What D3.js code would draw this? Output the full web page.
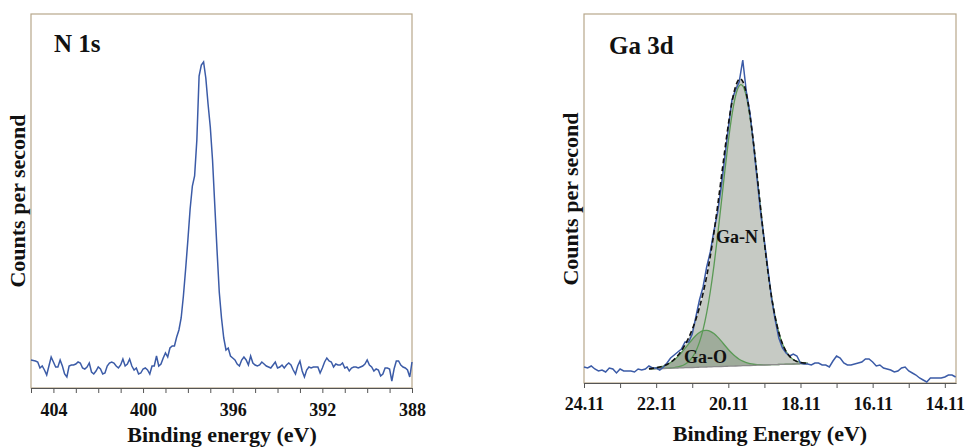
<!DOCTYPE html>
<html>
<head>
<meta charset="utf-8">
<script src="https://cdn.jsdelivr.net/npm/d3@7/dist/d3.min.js"></script>
<style>
  body { margin: 0; background: #fff; }
  svg { display: block; }
  text { font-family: "Liberation Serif", "Times New Roman", serif; font-weight: bold; fill: #111; }
</style>
</head>
<body>
<svg id="chart" width="968" height="448"></svg>
<script>
// ---- N 1s spectrum (0.1 eV steps from 405.0 eV down to 388.0 eV) ----
const n1sStart = 405.0;
const n1sStep = 0.1;
const n1sCounts = [
  280, 275, 270, 260, 200, 220, 180, 130, 220, 310,
  260, 210, 210, 280, 220, 140, 110, 220, 230, 230,
  240, 260, 250, 200, 190, 210, 250, 160, 140, 170,
  210, 190, 140, 150, 220, 250, 260, 250, 220, 200,
  230, 290, 220, 240, 290, 220, 180, 200, 140, 150,
  190, 200, 180, 140, 220, 220, 320, 220, 240, 300,
  350, 310, 400, 420, 420, 510, 580, 700, 920, 1190,
  1480, 1790, 2020, 2120, 2480, 3120, 3230, 3260, 3100, 2840,
  2610, 2280, 1830, 1380, 960, 700, 500, 380, 400, 320,
  300, 280, 240, 220, 280, 310, 280, 230, 320, 250,
  230, 220, 230, 260, 240, 220, 210, 200, 230, 260,
  200, 210, 230, 200, 230, 250, 230, 180, 140, 220,
  270, 170, 110, 180, 210, 200, 210, 210, 210, 150,
  200, 260, 300, 270, 260, 210, 240, 230, 230, 250,
  200, 210, 170, 200, 210, 210, 200, 210, 220, 240,
  280, 230, 210, 170, 190, 180, 120, 140, 200, 200,
  190, 70, 190, 270, 270, 230, 210, 200, 180, 110,
  260
];
const n1sTicks = [405, 404, 403, 402, 401, 400, 399, 398, 397, 396, 395, 394, 393, 392, 391, 390, 389, 388];
const n1sLabels = [404, 400, 396, 392, 388];

// ---- Ga 3d spectrum (0.1 eV steps from 24.11 eV down to 13.81 eV) ----
const gaStart = 24.11;
const gaStep = 0.1;
const gaCounts = [
  160, 150, 170, 140, 120, 130, 110, 150, 140, 100,
  140, 120, 120, 120, 110, 140, 130, 140, 170, 150,
  150, 130, 160, 200, 250, 280, 310, 340, 410, 410,
  490, 660, 830, 960, 1160, 1310, 1520, 1700, 1950, 2250,
  2550, 2830, 2930, 3010, 3230, 2910, 2700, 2380, 2030, 1690,
  1420, 1130, 840, 630, 450, 350, 300, 270, 290, 270,
  200, 190, 190, 180, 200, 200, 180, 180, 160, 220,
  270, 250, 200, 180, 180, 190, 200, 210, 240, 240,
  210, 170, 180, 150, 140, 130, 110, 120, 150, 160,
  120, 100, 80, 50, 30, 10, 50, 50, 50, 50,
  60, 80, 80, 60
];

// fitted components, 0.1 eV steps from 22.31 eV down to 17.91 eV
const fitStart = 22.31;
const fitStep = 0.1;
const fitBackground = [
  140, 141, 143, 144, 145, 146, 148, 149, 150, 151,
  153, 154, 155, 156, 158, 159, 160, 161, 163, 164,
  165, 166, 168, 169, 170, 171, 173, 174, 175, 176,
  178, 179, 180, 181, 183, 184, 185, 186, 188, 189,
  190, 191, 193, 194, 195
];
const fitGaN = [
  0, 0, 0, 0, 1, 1, 2, 5, 10, 18,
  33, 58, 97, 157, 245, 368, 533, 744, 1000, 1296,
  1618, 1946, 2256, 2521, 2715, 2817, 2816, 2706, 2497, 2215,
  1888, 1545, 1216, 919, 667, 466, 312, 201, 124, 74,
  42, 23, 12, 6, 3
];
const fitGaO = [
  3, 5, 9, 15, 24, 37, 56, 81, 113, 151,
  193, 238, 281, 320, 349, 366, 369, 358, 333, 298,
  256, 211, 167, 127, 93, 66, 44, 29, 18, 11,
  6, 3, 2, 1, 0, 0, 0, 0, 0, 0,
  0, 0, 0, 0, 0
];
const gaTicks = [24.11, 23.11, 22.11, 21.11, 20.11, 19.11, 18.11, 17.11, 16.11, 15.11, 14.11];
const gaLabels = ["24.11", "22.11", "20.11", "18.11", "16.11", "14.11"];

const blue = "#3b5ba7";
const frameColor = "#b7a78b";
const axisColor = "#555";

const svg = d3.select("#chart");

function drawFrame(g, x, y) {
  const [xa, xb] = x.range();
  const [ya, yb] = y.range();
  g.append("rect")
    .attr("x", Math.min(xa, xb)).attr("y", Math.min(ya, yb))
    .attr("width", Math.abs(xb - xa)).attr("height", Math.abs(yb - ya))
    .attr("fill", "none").attr("stroke", frameColor).attr("stroke-width", 1.2);
}

function drawAxis(g, x, y0, ticks, isLabel, fmt, pad) {
  const axis = d3.axisBottom(x)
    .tickValues(ticks)
    .tickSize(5)
    .tickSizeOuter(0)
    .tickPadding(pad)
    .tickFormat(d => isLabel(d) ? fmt(d) : "");
  const ax = g.append("g").attr("transform", `translate(0,${y0})`).call(axis);
  ax.select(".domain").attr("stroke", axisColor).attr("stroke-width", 1.2);
  ax.selectAll(".tick line").attr("stroke", axisColor);
  ax.selectAll(".tick text")
    .attr("font-size", 18)
    .attr("font-family", "Liberation Serif, serif")
    .attr("font-weight", "bold")
    .attr("fill", "#111");
}

// ---------------- Left panel: N 1s ----------------
{
  const x = d3.scaleLinear().domain([405, 388]).range([31, 412]);
  const y = d3.scaleLinear().domain([0, 3740]).range([388, 14]);
  const g = svg.append("g");
  drawFrame(g, x, y);

  const pts = n1sCounts.map((c, i) => ({ e: n1sStart - i * n1sStep, c }));
  g.append("path")
    .datum(pts)
    .attr("fill", "none")
    .attr("stroke", blue)
    .attr("stroke-width", 1.5)
    .attr("d", d3.line().x(d => x(d.e)).y(d => y(d.c)));

  drawAxis(g, x, 388, n1sTicks, d => n1sLabels.includes(d), d => d, 10);

  g.append("text").attr("x", 54).attr("y", 52).attr("font-size", 25).text("N 1s");
  g.append("text").attr("x", 222).attr("y", 442).attr("font-size", 22)
    .attr("text-anchor", "middle").text("Binding energy (eV)");
  g.append("text").attr("transform", "translate(25,201) rotate(-90)")
    .attr("font-size", 22).attr("text-anchor", "middle").text("Counts per second");
}

// ---------------- Right panel: Ga 3d ----------------
{
  const x = d3.scaleLinear().domain([24.11, 13.80]).range([584, 956]);
  const y = d3.scaleLinear().domain([0, 3690]).range([383, 14]);
  const g = svg.append("g");
  drawFrame(g, x, y);

  const fit = fitGaN.map((v, i) => ({
    e: fitStart - i * fitStep,
    bg: fitBackground[i],
    n: fitBackground[i] + v,
    o: fitBackground[i] + fitGaO[i],
    env: fitBackground[i] + v + fitGaO[i]
  }));

  const area = key => d3.area().x(d => x(d.e)).y0(d => y(d.bg)).y1(d => y(d[key])).curve(d3.curveBasis);
  const line = key => d3.line().x(d => x(d.e)).y(d => y(d[key])).curve(d3.curveBasis);

  g.append("path").datum(fit).attr("fill", "#c6cac4").attr("d", area("env"));
  g.append("path").datum(fit).attr("fill", "#9fac9b").attr("d", area("o"));

  g.append("path").datum(fit).attr("fill", "none").attr("stroke", "#5a9a55").attr("stroke-width", 1.3).attr("d", line("n"));
  g.append("path").datum(fit).attr("fill", "none").attr("stroke", "#5a9a55").attr("stroke-width", 1.3).attr("d", line("o"));
  g.append("path").datum(fit).attr("fill", "none").attr("stroke", "#8a8a8a").attr("stroke-width", 1.3).attr("d", line("bg"));

  const pts = gaCounts.map((c, i) => ({ e: gaStart - i * gaStep, c }));
  g.append("path")
    .datum(pts)
    .attr("fill", "none")
    .attr("stroke", blue)
    .attr("stroke-width", 1.5)
    .attr("d", d3.line().x(d => x(d.e)).y(d => y(d.c)));

  g.append("path").datum(fit).attr("fill", "none").attr("stroke", "#111")
    .attr("stroke-width", 1.6).attr("stroke-dasharray", "5,3").attr("d", line("env"));

  drawAxis(g, x, 383, gaTicks, d => gaLabels.includes(d.toFixed(2)), d => d.toFixed(2), 9);

  g.append("text").attr("x", 609).attr("y", 54).attr("font-size", 25).text("Ga 3d");
  g.append("text").attr("x", 716).attr("y", 243).attr("font-size", 18).text("Ga-N");
  g.append("text").attr("x", 684).attr("y", 363).attr("font-size", 18).text("Ga-O");
  g.append("text").attr("x", 770).attr("y", 441).attr("font-size", 22)
    .attr("text-anchor", "middle").text("Binding Energy (eV)");
  g.append("text").attr("transform", "translate(578,199) rotate(-90)")
    .attr("font-size", 22).attr("text-anchor", "middle").text("Counts per second");
}
</script>
</body>
</html>
